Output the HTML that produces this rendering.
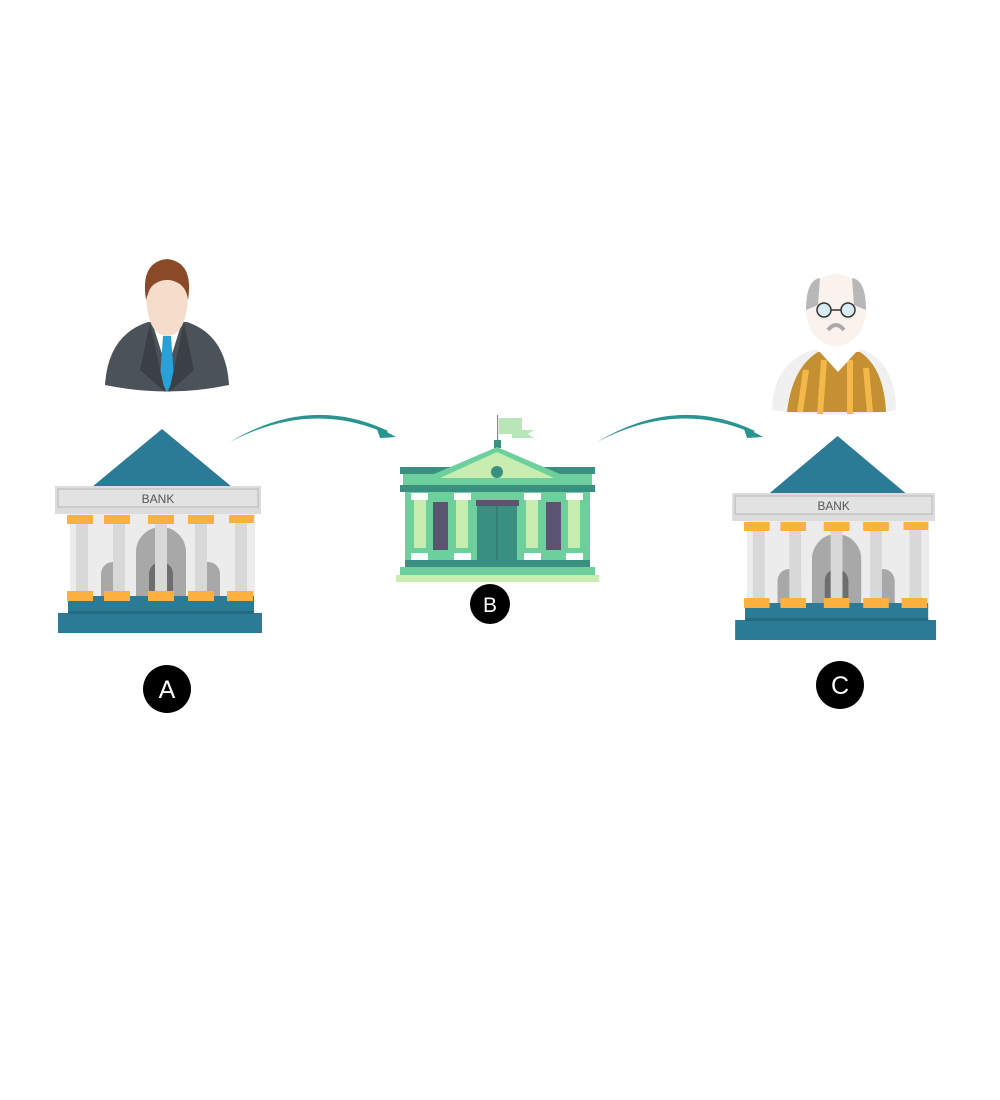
<!DOCTYPE html>
<html><head><style>body{margin:0;background:#fff}svg{display:block}</style></head><body>
<svg width="1000" height="1100" viewBox="0 0 1000 1100" xmlns="http://www.w3.org/2000/svg">
<defs>
<g id="bank">
<polygon points="162,429 92,487 232,487" fill="#2b7a96"/>
<rect x="55" y="486" width="206" height="28" fill="#dcdcdc"/>
<rect x="58" y="489" width="200" height="18" fill="#e2e2e2" stroke="#c4c4c4" stroke-width="1.5"/>
<text x="158" y="503" font-family="Liberation Sans, sans-serif" font-size="12" fill="#555" text-anchor="middle">BANK</text>
<rect x="70" y="514" width="185" height="82" fill="#ececec"/>
<path d="M136,596 V552 a25,25 0 0 1 50,0 V596 Z" fill="#a8a8a8"/>
<path d="M101,596 V574 a12,12 0 0 1 24,0 V596 Z" fill="#a8a8a8"/>
<path d="M149,596 V574 a12,12 0 0 1 24,0 V596 Z" fill="#6e6e6e"/>
<path d="M196,596 V574 a12,12 0 0 1 24,0 V596 Z" fill="#a8a8a8"/>
<g fill="#d8d8d8">
<rect x="76" y="520" width="12" height="76"/><rect x="113" y="520" width="12" height="76"/><rect x="155" y="520" width="12" height="76"/><rect x="195" y="520" width="12" height="76"/><rect x="235" y="520" width="12" height="76"/>
</g>
<g fill="#fbb040">
<rect x="67" y="515" width="26" height="9"/><rect x="104" y="515" width="26" height="9"/><rect x="148" y="515" width="26" height="9"/><rect x="188" y="515" width="26" height="9"/><rect x="229" y="515" width="25" height="8"/>
</g>
<rect x="68" y="596" width="186" height="18" fill="#2b7a96"/>
<rect x="58" y="613" width="204" height="20" fill="#2b7a96"/>
<rect x="68" y="611" width="186" height="3" fill="#236a82"/>
<g fill="#fbb040">
<rect x="67" y="591" width="26" height="10"/><rect x="104" y="591" width="26" height="10"/><rect x="148" y="591" width="26" height="10"/><rect x="188" y="591" width="26" height="10"/><rect x="227" y="591" width="26" height="10"/>
</g>
</g>
</defs>
<use href="#bank"/>
<use href="#bank" transform="translate(678,7) scale(0.985,1)"/>

<!-- man -->
<path d="M105,385 Q108,335 148,322 L187,322 Q226,335 229,385 Q167,398 105,385Z" fill="#4b5259"/>
<path d="M152,322 L167,370 L182,322Z" fill="#fff"/>
<path d="M163,336 L171,336 L174,378 L167,392 L160,378Z" fill="#2aa0d8"/>
<path d="M150,323 L165,392 L140,370Z M184,323 L169,392 L194,370Z" fill="#3a4046"/>
<path d="M146,290 Q146,335 167,336 Q188,335 188,290 Z" fill="#f5dccb"/>
<path d="M146,300 Q140,262 167,259 Q194,262 188,300 Q186,282 168,280 Q150,282 146,300Z" fill="#8a4a28"/>
<ellipse cx="167" cy="296" rx="19" ry="16" fill="#f5dccb"/>

<!-- old man -->
<path d="M772,410 Q772,365 812,350 L864,350 Q896,365 896,410 Q834,420 772,410Z" fill="#f0f0f0"/>
<path d="M787,412 Q792,368 818,352 L860,352 Q884,368 886,412Z" fill="#c49032"/>
<g stroke="#f3b84a" stroke-width="6"><line x1="800" y1="412" x2="806" y2="370"/><line x1="820" y1="414" x2="824" y2="360"/><line x1="850" y1="414" x2="850" y2="360"/><line x1="870" y1="412" x2="866" y2="368"/></g>
<path d="M818,350 L838,372 L858,350Z" fill="#fff"/>
<ellipse cx="836" cy="310" rx="30" ry="36" fill="#faf2ec"/>
<path d="M806,310 Q806,280 820,278 L818,305Z M866,310 Q866,280 852,278 L854,305Z" fill="#b8b8b8"/>
<circle cx="824" cy="310" r="7" fill="#d8ecf6" stroke="#333" stroke-width="1.5"/>
<circle cx="848" cy="310" r="7" fill="#d8ecf6" stroke="#333" stroke-width="1.5"/>
<line x1="831" y1="310" x2="841" y2="310" stroke="#333" stroke-width="1.5"/>
<path d="M828,330 Q836,320 844,330" stroke="#aaa" stroke-width="4" fill="none"/>

<!-- central building B -->
<rect x="497" y="415" width="1.2" height="28" fill="#888"/>
<polygon points="499,418 522,418 522,430 534,430 528,434 534,438 512,438 512,434 499,434" fill="#b8e6b8"/>
<rect x="494" y="440" width="7" height="8" fill="#3a9080"/>
<rect x="400" y="467" width="195" height="7" fill="#3a9080"/>
<rect x="403" y="474" width="189" height="12" fill="#6dd09c"/>
<polygon points="497,447 420,480 574,480" fill="#6dd09c"/>
<polygon points="497,452 440,478 554,478" fill="#c7eeb0"/>
<circle cx="497" cy="472" r="6" fill="#3a9080"/>
<rect x="400" y="485" width="195" height="7" fill="#3a9080"/>
<rect x="405" y="492" width="185" height="68" fill="#6dd09c"/>
<rect x="477" y="503" width="40" height="58" fill="#3a9080"/>
<rect x="476" y="500" width="43" height="6" fill="#5a5470"/>
<line x1="497" y1="505" x2="497" y2="560" stroke="#2c6e62"/>
<rect x="433" y="502" width="15" height="48" fill="#5a5470"/>
<rect x="546" y="502" width="15" height="48" fill="#5a5470"/>
<g fill="#c7eeb0"><rect x="414" y="498" width="12" height="50"/><rect x="456" y="498" width="12" height="50"/><rect x="526" y="498" width="12" height="50"/><rect x="568" y="498" width="12" height="50"/></g>
<g fill="#fff"><rect x="411" y="493" width="17" height="7"/><rect x="454" y="493" width="17" height="7"/><rect x="524" y="493" width="17" height="7"/><rect x="566" y="493" width="17" height="7"/>
<rect x="411" y="553" width="17" height="7"/><rect x="454" y="553" width="17" height="7"/><rect x="524" y="553" width="17" height="7"/><rect x="566" y="553" width="17" height="7"/></g>
<rect x="405" y="560" width="185" height="7" fill="#3a9080"/>
<rect x="400" y="567" width="195" height="8" fill="#6dd09c"/>
<rect x="396" y="575" width="203" height="7" fill="#c7eeb0"/>

<!-- arrows -->
<path d="M230,442 Q310,400 385,433 L388,431 Q310,394 230,442Z" fill="#2a9490"/>
<polygon points="396,437 376,426 380,438" fill="#2a9490"/>
<path d="M597,442 Q677,400 752,433 L755,431 Q677,394 597,442Z" fill="#2a9490"/>
<polygon points="763,437 743,426 747,438" fill="#2a9490"/>

<!-- labels -->
<g font-family="Liberation Sans, sans-serif" fill="#fff" text-anchor="middle">
<circle cx="167" cy="689" r="24" fill="#000"/><text x="167" y="698" font-size="25">A</text>
<circle cx="490" cy="604" r="20" fill="#000"/><text x="490" y="612" font-size="21">B</text>
<circle cx="840" cy="685" r="24" fill="#000"/><text x="840" y="694" font-size="25">C</text>
</g>
</svg>
</body></html>
